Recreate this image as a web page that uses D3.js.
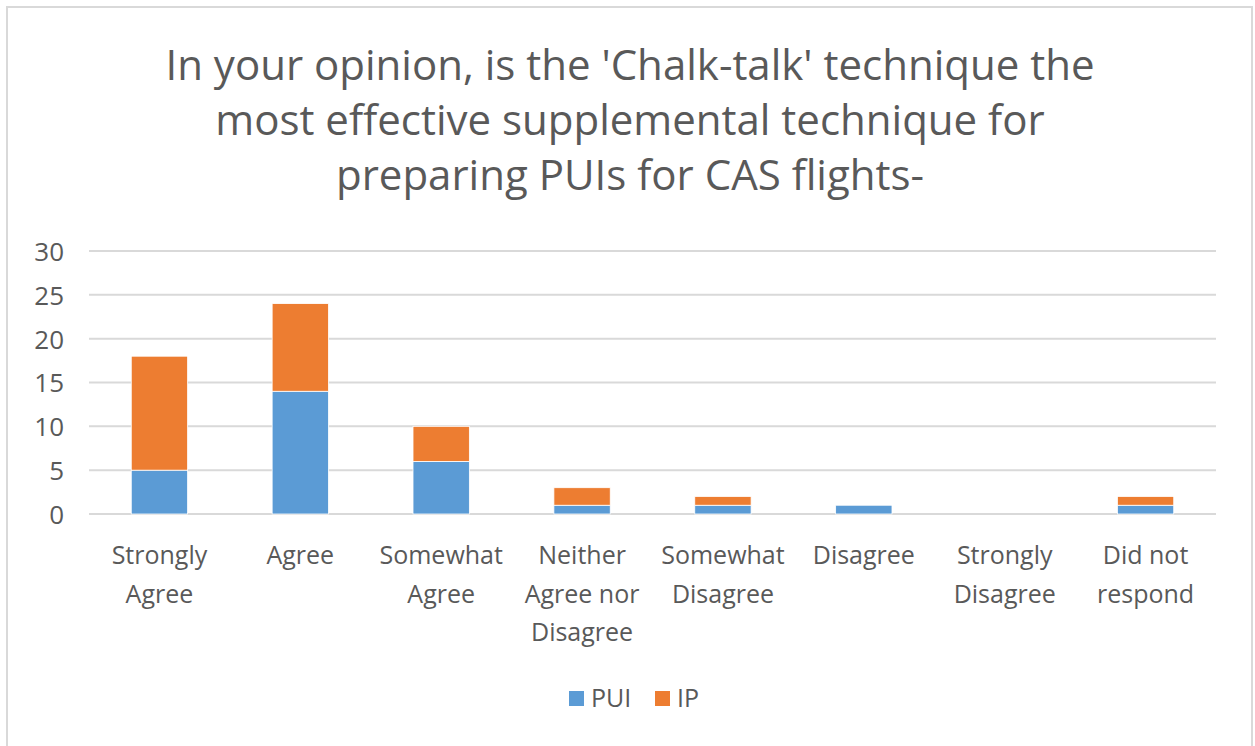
<!DOCTYPE html>
<html>
<head>
<meta charset="utf-8">
<script src="https://cdn.jsdelivr.net/npm/d3@7"></script>
<style>
  body { margin: 0; background: #fff; }
  svg text { font-family: "Open Sans", "Noto Sans", sans-serif; fill: #595959; }
</style>
</head>
<body>
<svg id="chart" width="1255" height="746"></svg>
<script>
// chart values
var categories = [
  ["Strongly", "Agree"],
  ["Agree"],
  ["Somewhat", "Agree"],
  ["Neither", "Agree nor", "Disagree"],
  ["Somewhat", "Disagree"],
  ["Disagree"],
  ["Strongly", "Disagree"],
  ["Did not", "respond"]
];
var seriesNames = ["PUI", "IP"];
var puiValues = [5, 14, 6, 1, 1, 1, 0, 1];
var ipValues = [13, 10, 4, 2, 1, 0, 0, 1];
var yTicks = [0, 5, 10, 15, 20, 25, 30];
var titleLines = [
  "In your opinion, is the 'Chalk-talk' technique the",
  "most effective supplemental technique for",
  "preparing PUIs for CAS flights-"
];
var colors = ["#5b9bd5", "#ed7d31"];

var svg = d3.select("#chart");

// outer chart border
svg.append("rect")
  .attr("x", 7).attr("y", 7)
  .attr("width", 1245).attr("height", 760)
  .attr("fill", "#fff")
  .attr("stroke", "#d9d9d9")
  .attr("stroke-width", 2);

// title
svg.append("g").selectAll("text")
  .data(titleLines)
  .enter().append("text")
  .attr("x", 630)
  .attr("y", function(d, i) { return 80 + i * 55; })
  .attr("text-anchor", "middle")
  .style("font-size", "42px")
  .text(function(d) { return d; });

var plotLeft = 89, plotRight = 1216, plotTop = 251, plotBottom = 514;

var keys = categories.map(function(d, i) { return i; });
var x = d3.scaleBand().domain(keys).range([plotLeft, plotRight]).paddingInner(0.6).paddingOuter(0.3);
var y = d3.scaleLinear().domain([0, 30]).range([plotBottom, plotTop]);

// gridlines
svg.append("g").selectAll("line")
  .data(yTicks)
  .enter().append("line")
  .attr("x1", plotLeft).attr("x2", plotRight)
  .attr("y1", function(d) { return y(d); })
  .attr("y2", function(d) { return y(d); })
  .attr("stroke", "#d9d9d9")
  .attr("stroke-width", 2);

// y axis labels
var yAxis = d3.axisLeft(y).tickValues(yTicks).tickSize(0).tickPadding(0);
var yg = svg.append("g").attr("transform", "translate(64,0)").call(yAxis);
yg.select(".domain").remove();
yg.attr("font-family", null).attr("font-size", null);
yg.selectAll("text").style("font-size", "26px").attr("dy", "0.36em");

// stacked data
var rows = keys.map(function(i) { return { cat: i, PUI: puiValues[i], IP: ipValues[i] }; });
var stacked = d3.stack().keys(seriesNames)(rows);

svg.append("g").selectAll("g")
  .data(stacked)
  .enter().append("g")
  .attr("fill", function(d, i) { return colors[i]; })
  .selectAll("rect")
  .data(function(d) { return d; })
  .enter().append("rect")
  .attr("x", function(d) { return x(d.data.cat); })
  .attr("y", function(d) { return y(d[1]); })
  .attr("width", x.bandwidth())
  .attr("height", function(d) { return y(d[0]) - y(d[1]); })
  .attr("stroke", "#fff")
  .attr("stroke-width", 0.8);

// x labels
var xg = svg.append("g");
categories.forEach(function(lines, i) {
  var cx = x(i) + x.bandwidth() / 2;
  xg.append("text")
    .attr("x", cx)
    .attr("text-anchor", "middle")
    .style("font-size", "25px")
    .selectAll("tspan")
    .data(lines)
    .enter().append("tspan")
    .attr("x", cx)
    .attr("y", function(d, j) { return 564 + j * 38.5; })
    .text(function(d) { return d; });
});

// legend
var legend = svg.append("g");
var legendItems = [
  { name: "PUI", color: colors[0], x: 569 },
  { name: "IP", color: colors[1], x: 655 }
];
legendItems.forEach(function(d) {
  legend.append("rect")
    .attr("x", d.x).attr("y", 691)
    .attr("width", 15).attr("height", 15)
    .attr("fill", d.color);
  legend.append("text")
    .attr("x", d.x + 22).attr("y", 707)
    .style("font-size", "25px")
    .text(d.name);
});
</script>
</body>
</html>
